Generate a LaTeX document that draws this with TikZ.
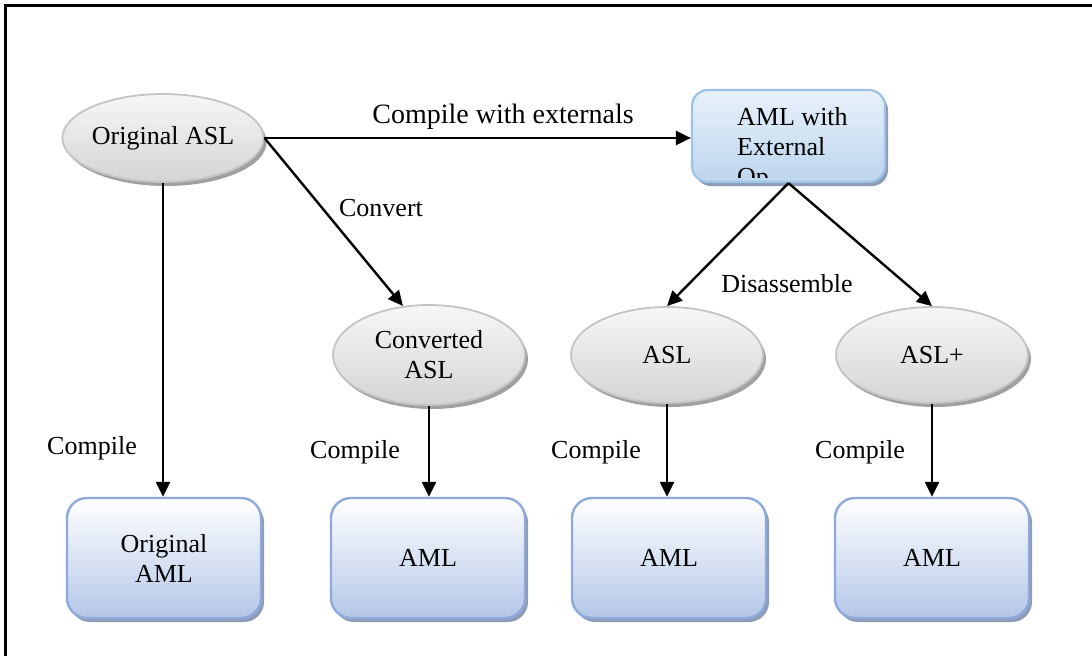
\documentclass[tikz,border=0pt]{standalone}
\usepackage{fontspec}
\setmainfont{Liberation Serif}
\usetikzlibrary{shapes.geometric,arrows.meta,shadows}
\definecolor{ellborder}{HTML}{C4C4C4}
\definecolor{elltop}{HTML}{F7F7F7}
\definecolor{ellbot}{HTML}{D4D4D4}
\definecolor{ellshadow}{HTML}{A0A0A0}
\definecolor{boxborder}{HTML}{8EA9DB}
\definecolor{boxtop}{HTML}{FFFFFF}
\definecolor{boxbot}{HTML}{B4C7E7}
\definecolor{boxshadow}{HTML}{8E9CB8}
\definecolor{extborder}{HTML}{9DC3E6}
\definecolor{exttop}{HTML}{E8F1FA}
\definecolor{extbot}{HTML}{BDD5EE}
\tikzset{
  txt/.style={font=\fontsize{26}{30}\selectfont, text=black},
  ellnode/.style={ellipse, draw=ellborder, line width=1.8pt, top color=elltop, bottom color=ellbot,
    minimum width=192pt, minimum height=96pt, inner sep=0pt, align=center, txt,
    drop shadow={shadow xshift=3pt, shadow yshift=-4pt, fill=ellshadow, opacity=1}},
  boxnode/.style={rectangle, rounded corners=20pt, draw=boxborder, line width=2.4pt, top color=boxtop, bottom color=boxbot,
    minimum width=194pt, minimum height=120pt, inner sep=0pt, align=center, txt,
    drop shadow={shadow xshift=3pt, shadow yshift=-4pt, fill=boxshadow, opacity=1}},
  extnode/.style={rectangle, rounded corners=16pt, draw=extborder, line width=2.2pt, top color=exttop, bottom color=extbot,
    minimum width=193pt, minimum height=92pt, inner sep=0pt,
    drop shadow={shadow xshift=3pt, shadow yshift=-4pt, fill=boxshadow, opacity=1}},
  conn/.style={line width=2.4pt, -{Triangle[length=15pt,width=14pt]}},
  lbl/.style={txt, inner sep=0pt}
}
\begin{document}
\begin{tikzpicture}[x=1pt,y=-1pt]
\useasboundingbox (0,0) rectangle (1092,656);
\draw[line width=3pt] (5,656) -- (5,5) -- (1092,5);

\node[ellnode, minimum height=88pt] (oasl) at (163,138) {Original ASL};
\node[extnode] (aext) at (788.5,136) {};
\begin{scope}
  \clip (694,92) rectangle (883,177);
  \node[txt, anchor=north west, align=left, inner sep=0pt] (aexttext) at (737,107) {AML with\\External\\Op};
\end{scope}
\node[ellnode, minimum height=100pt] (conv) at (429,355) {Converted\\ASL};
\node[ellnode] (asl) at (667,355) {ASL};
\node[ellnode] (aslp) at (932,355) {ASL+};

\node[boxnode] (oaml) at (164,558) {Original\\AML};
\node[boxnode] (aml2) at (428,558) {AML};
\node[boxnode] (aml3) at (669,558) {AML};
\node[boxnode] (aml4) at (932,558) {AML};

\draw[conn] (oasl.east) -- (oasl.east -| aext.west);
\draw[conn] (oasl.east) -- (conv.118);
\draw[conn] (oasl.south) -- (oasl.south |- oaml.north);
\draw[conn] (conv.south) -- (conv.south |- aml2.north);
\draw[conn] (asl.south) -- (asl.south |- aml3.north);
\draw[conn] (aslp.south) -- (aslp.south |- aml4.north);
\draw[conn] (aext.south) -- (asl.north);
\draw[conn] (aext.south) -- (aslp.north);

\node[lbl, font=\fontsize{28}{32}\selectfont] (lcwe) at (503,117) {Compile with externals};
\node[lbl] (lconv) at (381,208) {Convert};
\node[lbl] (ldis) at (787,284) {Disassemble};
\node[lbl] (lc1) at (92,448) {Compile};
\node[lbl] (lc2) at (355,452) {Compile};
\node[lbl] (lc3) at (596,452) {Compile};
\node[lbl] (lc4) at (860,452) {Compile};
\end{tikzpicture}
\end{document}
